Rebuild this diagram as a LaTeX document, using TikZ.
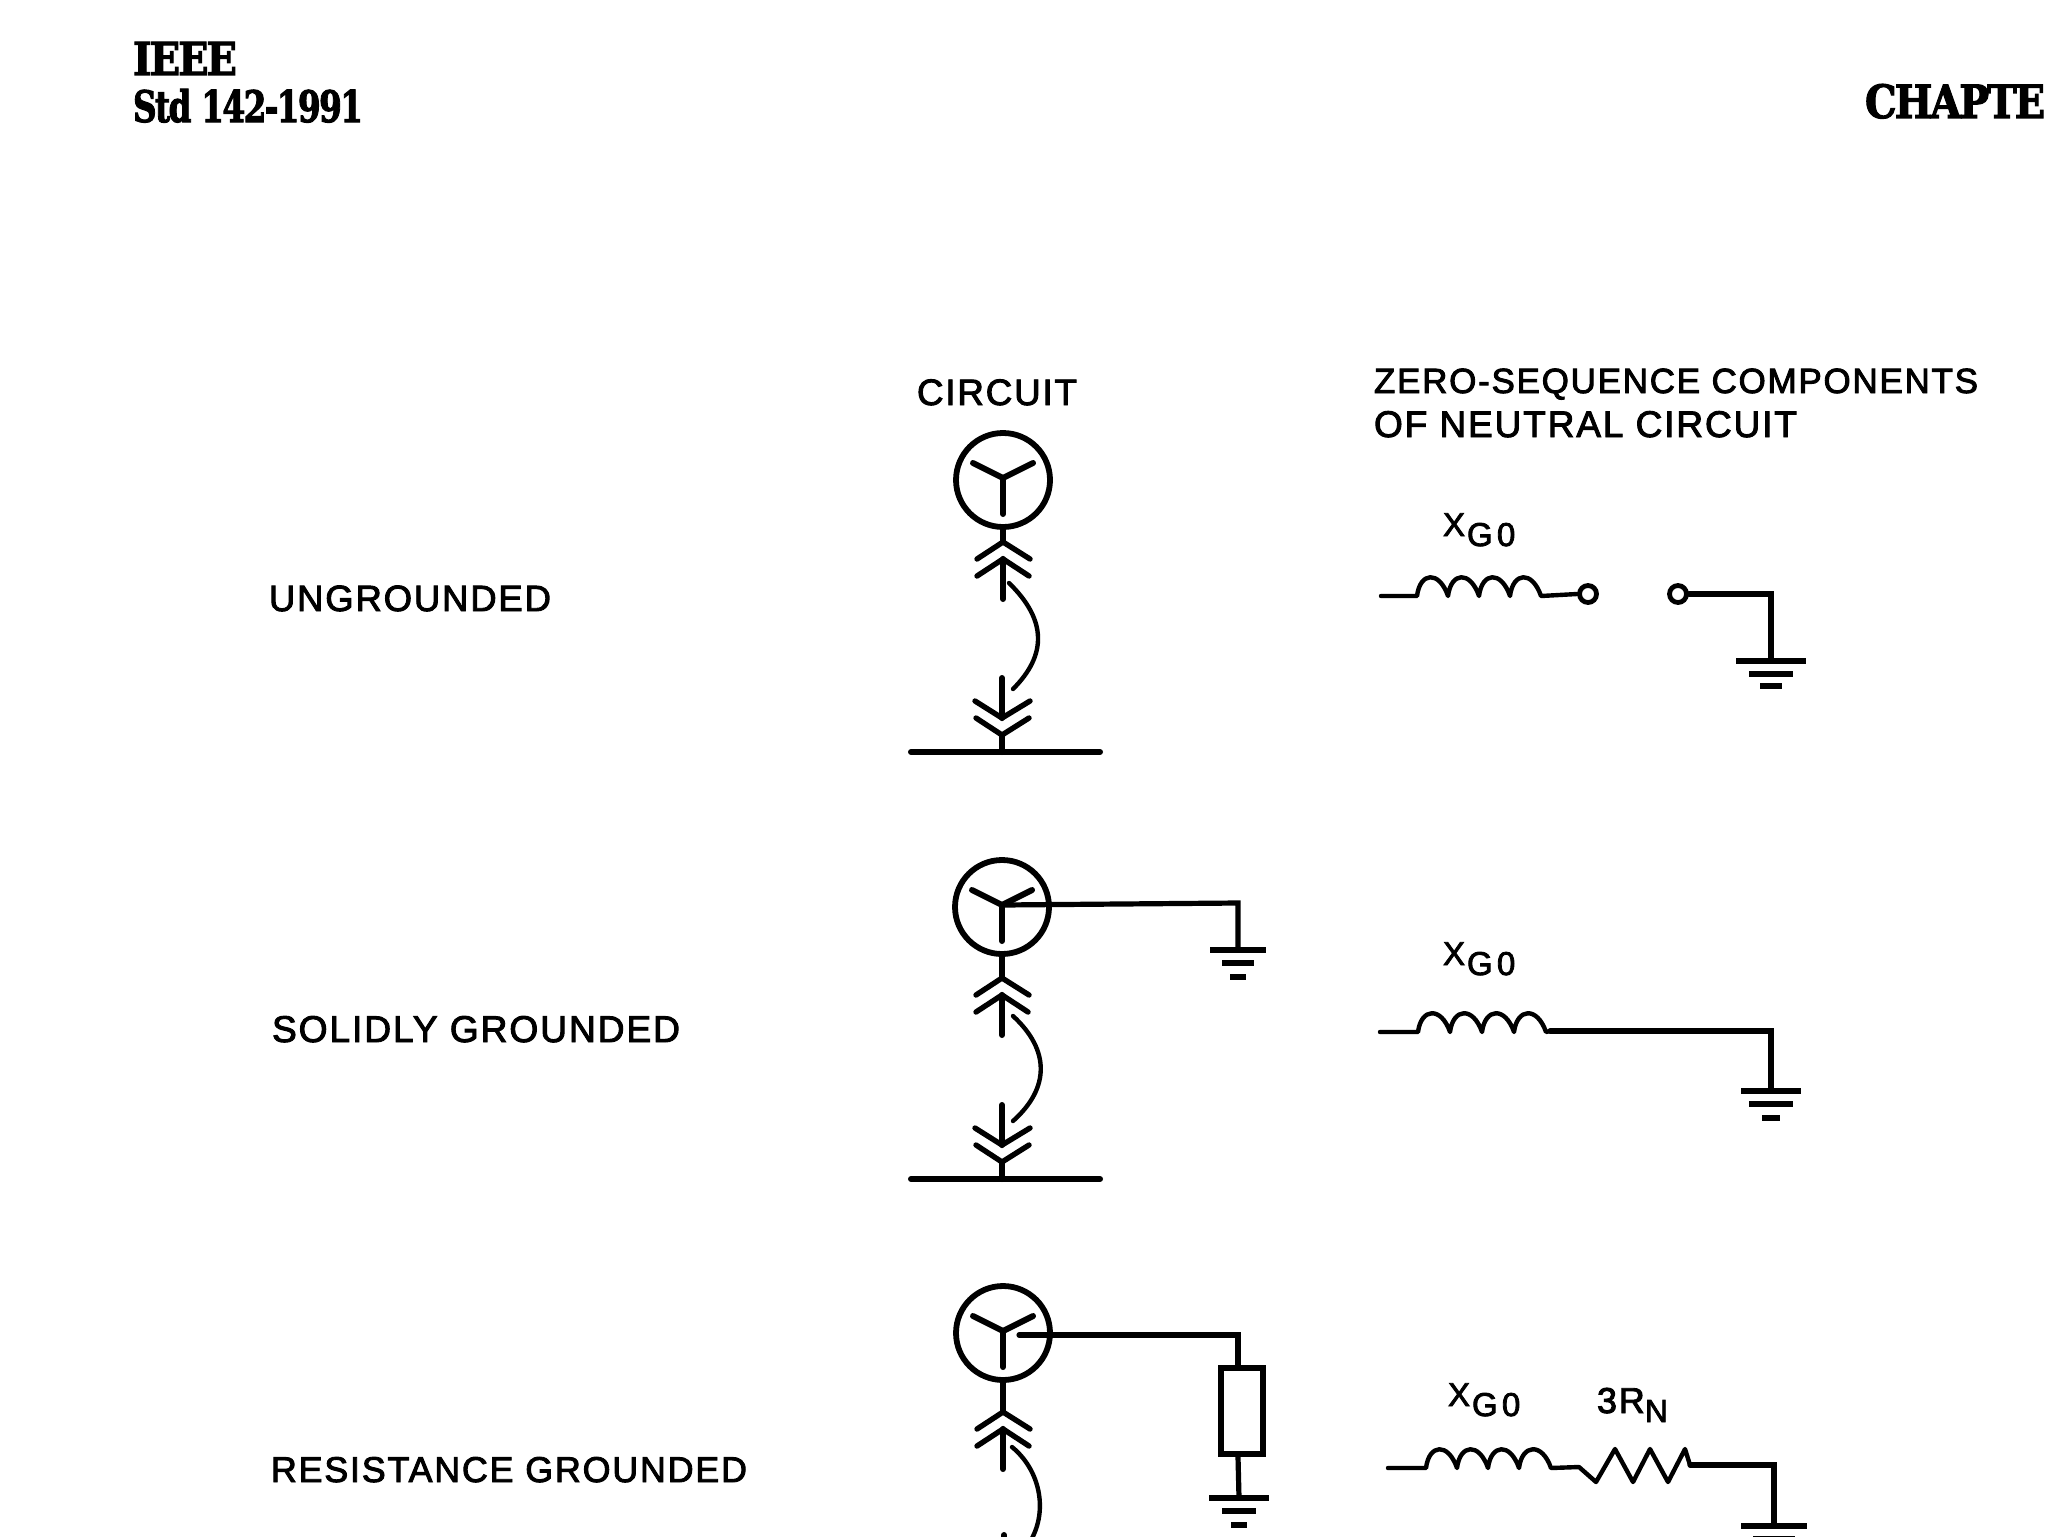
\documentclass[tikz,border=0pt]{standalone}
\usepackage{fontspec}
\usepackage{graphicx}
\setmainfont{Liberation Sans}
\newfontfamily\lab{Liberation Sans}[LetterSpace=5,FakeBold=2.5]
\newfontfamily\labsub{Liberation Sans}[LetterSpace=13,FakeBold=2.5]
\newfontfamily\hdr{DejaVu Serif Bold}[LetterSpace=-5,FakeBold=2.5]
\newcommand\lbl[2]{\resizebox{#1pt}{!}{\lab\fontsize{17}{20}\selectfont #2}}
\newcommand\hfit[3]{\resizebox{#1pt}{#2pt}{\hdr\fontsize{21}{24}\selectfont #3}}
\newcommand\xgo{{\lab\fontsize{16.5}{20}\selectfont X\hspace{1pt}\raisebox{-5pt}{\labsub\fontsize{16.5}{18}\selectfont G0}}}
\newcommand\rn{{\lab\fontsize{18}{20}\selectfont 3R\raisebox{-4.5pt}{\fontsize{16}{18}\selectfont N}}}
\tikzset{
  x=0.5pt,y=-0.5pt,
  wire/.style={line width=2.6pt,line cap=round,line join=miter,black},
  chev/.style={line width=2.7pt,line cap=round,line join=miter,black},
  thick wire/.style={line width=3pt,line cap=round,line join=miter,black},
  thin wire/.style={line width=2.2pt,line cap=round,line join=round,black},
  gen/.style={circle,draw,line width=2.9pt,minimum size=47pt,inner sep=0pt},
  term/.style={circle,draw,line width=2.4pt,minimum size=8.5pt,inner sep=0pt},
  res/.style={rectangle,draw,line width=2.8pt,minimum width=21pt,minimum height=43pt,inner sep=0pt},
  txt/.style={anchor=base west,inner sep=0pt,outer sep=0pt},
}
% generator with upper contact: name, x, apex y, distance circle centre above apex
\newcommand\machine[4]{%
  \begin{scope}[shift={(#2,#3)}]
    \node[gen] (#1) at (0,-#4) {};
    \coordinate (#1y) at (0,-#4-2);
    \draw[thick wire] (#1y) -- ++(-30,-15);
    \draw[thick wire] (#1y) -- ++(30,-15);
    \draw[thick wire] (#1y) -- ++(0,36);
    \coordinate (#1a) at (0,0);
    \coordinate (#1b) at (0,17);
    \draw[thick wire] (#1.south) -- (#1a);
    \draw[chev] (-26,17) -- (#1a) -- (27,17);
    \draw[chev] (-26,34) -- (#1b) -- (26,34);
    \draw[thick wire] (#1b) -- (0,57);
  \end{scope}}
% busbar with lower contact: name, x, bus y
\newcommand\busbar[3]{%
  \begin{scope}[shift={(#2,#3)}]
    \coordinate (#1) at (0,0);
    \coordinate (#1l) at (-91,0);
    \coordinate (#1r) at (98,0);
    \coordinate (#1c) at (0,-17);
    \coordinate (#1d) at (0,-34);
    \draw[thick wire] (#1l) -- (#1r);
    \draw[thick wire] (#1) -- (#1c);
    \draw[chev] (-26,-34) -- (#1c) -- (27,-34);
    \draw[chev] (-27,-51) -- (#1d) -- (28,-51);
    \draw[thick wire] (#1d) -- (0,-74);
  \end{scope}}
% ground symbol: name, x, y, half widths of the first two bars
\newcommand\earth[5]{%
  \begin{scope}[shift={(#2,#3)}]
    \coordinate (#1) at (0,0);
    \draw[line width=2.9pt,black] (-#4,0) -- (#4,0);
    \draw[line width=2.9pt,black] (-#5,13) -- (#5,13);
  \end{scope}}
\newcommand\earthtip[3]{\draw[line width=3.4pt,black] ([shift={(-#3,#2)}]#1) -- ([shift={(#3,#2)}]#1);}
\def\hump#1{.. controls +(3,-24) and +(-9,-26) .. ++(#1,0)}
\begin{document}
\begin{tikzpicture}
\useasboundingbox (0,0) rectangle (2048,1536);
\fill[white] (0,0) rectangle (2048,1536);
\clip (0,0) rectangle (2048,1536);

% header
\node[txt] (ieee) at (133,75) {\hfit{52}{16.5}{IEEE}};
\node[txt] (std) at (133,122) {\hfit{115}{16.5}{Std 142-1991}};
\node[txt] (chap) at (1865,118) {\hfit{90}{17}{CHAPTE}};

% headings
\node[txt] (hc) at (917,405) {\lbl{80}{CIRCUIT}};
\node[txt] (hz1) at (1374,393) {\lbl{302}{ZERO-SEQUENCE COMPONENTS}};
\node[txt] (hz2) at (1374,437) {\lbl{211.5}{OF NEUTRAL CIRCUIT}};
\node[txt] (l1) at (269,611) {\lbl{141}{UNGROUNDED}};
\node[txt] (l2) at (272,1042) {\lbl{204}{SOLIDLY GROUNDED}};
\node[txt] (l3) at (271,1482) {\lbl{238}{RESISTANCE GROUNDED}};

% row 1: circuit
\machine{ga}{1003}{542}{62}
\busbar{ba}{1002}{752}
\coordinate (sa) at (1009,583);
\coordinate (ea) at (1013,689);
\draw[thin wire] (sa) .. controls (1047,620) and (1047,655) .. (ea);

% row 1: components
\node[txt] (xa) at (1443,536) {\xgo};
\coordinate (a0) at (1381,596);
\coordinate (a1) at (1417,596);
\node[term] (ta) at (1588,594) {};
\node[term] (tb) at (1678,594) {};
\draw[thin wire] (a0) -- (a1) \hump{31} \hump{31} \hump{31} \hump{31} -- (ta.west);
\coordinate (ac) at (1771,594);
\earth{ea1}{1771}{661}{35}{22}
\earthtip{ea1}{25}{11}
\draw[wire] (tb.east) -- (ac) -- (ea1);

% row 2: circuit
\machine{gb}{1002}{978}{71}
\busbar{bb}{1002}{1179}
\coordinate (sb) at (1013,1016);
\coordinate (eb) at (1013,1121);
\draw[thin wire] (sb) .. controls (1050,1050) and (1050,1088) .. (eb);
\earth{eb1}{1238}{950}{28}{16}
\earthtip{eb1}{27}{8}
\coordinate (cb) at (1238,903);
\draw[wire] (gby) -- (cb) -- (eb1);

% row 2: components
\node[txt] (xb) at (1443,965) {\xgo};
\coordinate (b0) at (1380,1032);
\coordinate (b1) at (1418,1032);
\coordinate (b2) at (1771,1031);
\earth{eb2}{1771}{1091}{30}{22}
\earthtip{eb2}{27}{9}
\coordinate (b3) at (1550,1031);
\draw[thin wire] (b0) -- (b1) \hump{32} \hump{32} \hump{32} \hump{32} -- (b3);
\draw[wire] (b3) -- (b2) -- (eb2);

% row 3: circuit
\machine{gc}{1003}{1412}{79}
\busbar{bc}{1004}{1609}
\coordinate (sc) at (1012,1447);
\coordinate (ec) at (1031,1540);
\draw[thin wire] (sc) .. controls (1040,1470) and (1048,1510) .. (ec);
\node[res] (rc) at (1242,1411) {};
\earth{ec1}{1239}{1498}{30}{17}
\earthtip{ec1}{27}{8}
\coordinate (cc) at (1238,1335);
\draw[wire] (gcy) ++(16,4) -- (cc) -- (rc.north -| cc);
\draw[wire] (rc.south -| cc) -- (ec1);

% row 3: components
\node[txt] (xc) at (1448,1406) {\xgo};
\node[txt] (rnc) at (1597,1413) {\rn};
\coordinate (c0) at (1388,1468);
\coordinate (c1) at (1426,1468);
\coordinate (c2) at (1579,1467);
\coordinate (c3) at (1690,1465);
\coordinate (c4) at (1774,1465);
\earth{ec2}{1774}{1526}{33}{21}
\draw[thin wire] (c0) -- (c1) \hump{31} \hump{31} \hump{31} \hump{32} -- (c2)
  -- (1596,1482) -- (1615,1449) -- (1633,1482) -- (1650,1449) -- (1668,1482) -- (1685,1449) -- (c3);
\draw[wire] (c3) -- (c4) -- (ec2);
\end{tikzpicture}
\end{document}
